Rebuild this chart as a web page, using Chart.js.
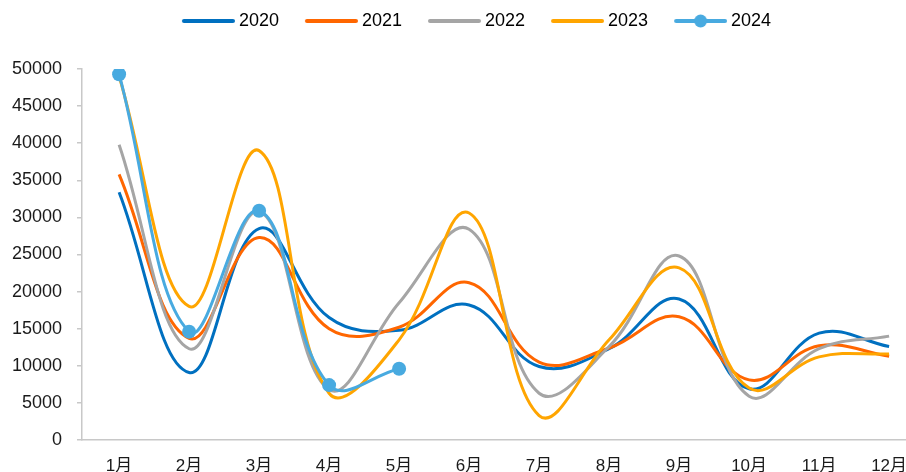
<!DOCTYPE html>
<html>
<head>
<meta charset="utf-8">
<script src="https://cdn.jsdelivr.net/npm/chart.js@4.4.1/dist/chart.umd.min.js"></script>
<style>
  html, body { margin: 0; padding: 0; background: #fff; overflow: hidden; }
  #wrap { width: 906px; height: 472px; overflow: hidden; }
</style>
</head>
<body>
<div id="wrap"><canvas id="chart" width="935" height="484"></canvas></div>
<script>
const months = ["1月", "2月", "3月", "4月", "5月", "6月", "7月", "8月", "9月", "10月", "11月", "12月"];
const years = ["2020", "2021", "2022", "2023", "2024"];

const v2020 = [33400, 9100, 28500, 16500, 14800, 18200, 9900, 12300, 19000, 6900, 14400, 12600];
const v2021 = [35800, 13700, 27300, 15000, 15200, 21200, 10500, 12400, 16600, 8100, 12700, 11300];
const v2022 = [39800, 12300, 30800, 6800, 18500, 28400, 6300, 12600, 24800, 5900, 12300, 14000];
const v2023 = [49000, 18000, 39000, 6300, 13500, 30600, 3300, 13500, 23200, 7000, 11200, 11600];
const v2024 = [49300, 14600, 30900, 7400, 9600];

const yTicks = [0, 5000, 10000, 15000, 20000, 25000, 30000, 35000, 40000, 45000, 50000];

const colors = ["#0070C0", "#FF6600", "#A5A5A5", "#FFA500", "#48AAE0"];
const seriesValues = [v2020, v2021, v2022, v2023, v2024];

// legend sample: a short line, with a dot for the series that has markers
function legendIcon(color, marker) {
    const c = document.createElement("canvas");
    c.width = 74;
    c.height = 16;
    const g = c.getContext("2d");
    g.strokeStyle = color;
    g.lineWidth = 4;
    g.lineCap = "round";
    g.beginPath();
    g.moveTo(23, 8);
    g.lineTo(72, 8);
    g.stroke();
    if (marker) {
        g.fillStyle = color;
        g.beginPath();
        g.arc(47.5, 8, 6.5, 0, Math.PI * 2);
        g.fill();
    }
    return c;
}

const icons = years.map((y, i) => legendIcon(colors[i], i === 4));

const datasets = years.map((year, i) => ({
    label: year,
    data: seriesValues[i].map((v, k) => ({ x: k + 1, y: v })),
    borderColor: colors[i],
    backgroundColor: colors[i],
    borderWidth: 3,
    pointRadius: i === 4 ? 7 : 0,
    pointBorderWidth: 0,
    pointBackgroundColor: colors[i],
    tension: 0.4,
    fill: false,
    order: 4 - i
}));

// push the plot down below the legend
const legendSpace = {
    id: "legendSpace",
    afterInit(chart) {
        const fit = chart.legend.fit;
        chart.legend.fit = function () {
            fit.call(this);
            this.height = 67;
        };
    }
};

const chart = new Chart(document.getElementById("chart").getContext("2d"), {
    type: "line",
    data: { datasets },
    plugins: [legendSpace],
    options: {
        responsive: false,
        animation: false,
        events: [],
        layout: { padding: { left: 12, right: 10, top: 2, bottom: 0 } },
        plugins: {
            tooltip: { enabled: false },
            legend: {
                position: "top",
                labels: {
                    usePointStyle: true,
                    pointStyleWidth: 64,
                    padding: 10,
                    color: "#1a1a1a",
                    font: { family: "'Liberation Sans', Arial, sans-serif", size: 18 },
                    generateLabels: c => c.data.datasets.map((ds, i) => ({
                        text: ds.label,
                        pointStyle: icons[i],
                        datasetIndex: i,
                        hidden: false,
                        lineWidth: 0,
                        strokeStyle: "transparent",
                        fillStyle: "transparent"
                    }))
                }
            }
        },
        scales: {
            x: {
                type: "linear",
                min: 0.47,
                max: 12.513,
                afterBuildTicks: scale => { scale.ticks = months.map((m, i) => ({ value: i + 1 })); },
                afterFit: scale => { scale.height = 44; },
                grid: { display: true, drawOnChartArea: false, drawTicks: false },
                border: { display: true, color: "#c8c8c8", width: 1.5 },
                ticks: {
                    autoSkip: false,
                    maxRotation: 0,
                    padding: 16,
                    color: "#1a1a1a",
                    font: { family: "'Liberation Sans', 'Noto Sans CJK SC', sans-serif", size: 17 },
                    callback: v => months[v - 1]
                }
            },
            y: {
                min: 0,
                max: 50000,
                afterBuildTicks: scale => { scale.ticks = yTicks.map(v => ({ value: v })); },
                afterFit: scale => { scale.width = 70; },
                grid: { display: true, drawOnChartArea: false, drawTicks: true, tickLength: 5, color: "#c8c8c8", lineWidth: 1.5 },
                border: { display: true, color: "#c8c8c8", width: 1.5 },
                ticks: {
                    padding: 15,
                    color: "#1a1a1a",
                    font: { family: "'Liberation Sans', Arial, sans-serif", size: 18 },
                    callback: v => String(v)
                }
            }
        }
    }
});
</script>
</body>
</html>
